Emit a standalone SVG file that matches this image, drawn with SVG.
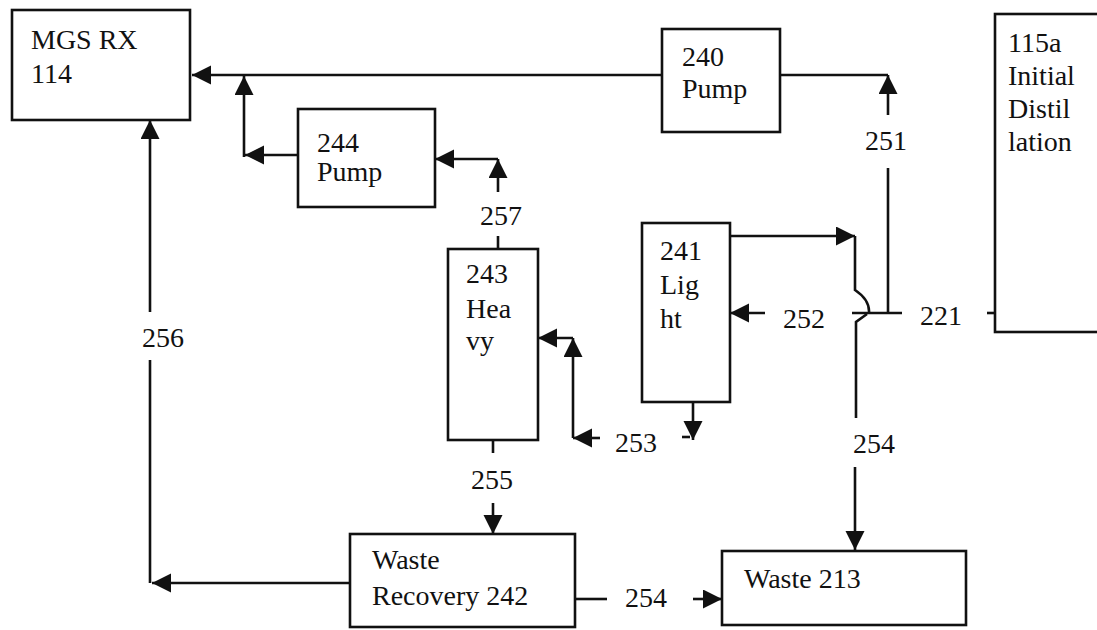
<svg xmlns="http://www.w3.org/2000/svg" width="1097" height="630" viewBox="0 0 1097 630">
<defs>
<marker id="ah" markerUnits="userSpaceOnUse" markerWidth="20" markerHeight="20" refX="19" refY="9.5" orient="auto">
<path d="M0,0 L19,9.5 L0,19 z" fill="#111"/>
</marker>
<style>
.box{fill:#fff;stroke:#111;stroke-width:2.6}
.t{font-family:"Liberation Serif","Times New Roman",serif;font-size:28px;fill:#111}
.c{fill:none;stroke:#111;stroke-width:2.6}
.a{marker-end:url(#ah)}
</style>
</defs>
<rect width="1097" height="630" fill="#fff"/>
<g id="connectors">
<path class="c a" d="M662,75 H192"/>
<path class="c" d="M780,75 H888"/>
<path class="c a" d="M888,115 V75"/>
<path class="c" d="M888,168 V313"/>
<path class="c" d="M852,313 H902"/>
<path class="c" d="M987,313 H995"/>
<path class="c a" d="M765,313 H730"/>
<path class="c a" d="M730,236 H855"/>
<path class="c" d="M855,236 V290 Q870,300 869,313"/>
<path class="c" d="M867,314 L856,322 V418"/>
<path class="c a" d="M855,467 V550"/>
<path class="c a" d="M298,155 H245"/>
<path class="c a" d="M244,157 V76"/>
<path class="c a" d="M498,159 H435"/>
<path class="c a" d="M498,192 V159"/>
<path class="c" d="M498,236 V249"/>
<path class="c a" d="M573,338 H538"/>
<path class="c a" d="M573,438 V338"/>
<path class="c a" d="M600,438 H573"/>
<path class="c a" d="M693,402 V440"/>
<path class="c" d="M682,437 H690"/>
<path class="c" d="M493,440 V453"/>
<path class="c a" d="M493,503 V534"/>
<path class="c a" d="M150,312 V120"/>
<path class="c" d="M150,360 V583"/>
<path class="c a" d="M350,583 H152"/>
<path class="c" d="M575,599 H607"/>
<path class="c a" d="M693,599 H722"/>
<text class="t" x="865" y="150">251</text>
<text class="t" x="480" y="225">257</text>
<text class="t" x="783" y="328">252</text>
<text class="t" x="920" y="325">221</text>
<text class="t" x="615" y="452">253</text>
<text class="t" x="853" y="453">254</text>
<text class="t" x="471" y="489">255</text>
<text class="t" x="142" y="347">256</text>
<text class="t" x="625" y="607">254</text>
</g>
<g id="mgs">
<rect class="box" x="12" y="10" width="178" height="110"/>
<text class="t" x="31" y="49">MGS RX</text>
<text class="t" x="31" y="83">114</text>
</g>
<g id="pump240">
<rect class="box" x="662" y="29" width="118" height="103"/>
<text class="t" x="682" y="66">240</text>
<text class="t" x="682" y="98">Pump</text>
</g>
<g id="dist115a">
<rect class="box" x="995" y="14" width="120" height="318"/>
<text class="t" x="1008" y="52">115a</text>
<text class="t" x="1008" y="85">Initial</text>
<text class="t" x="1008" y="118">Distil</text>
<text class="t" x="1008" y="151">lation</text>
</g>
<g id="pump244">
<rect class="box" x="298" y="109" width="137" height="98"/>
<text class="t" x="317" y="152">244</text>
<text class="t" x="317" y="181">Pump</text>
</g>
<g id="heavy243">
<rect class="box" x="448" y="249" width="90" height="191"/>
<text class="t" x="466" y="283">243</text>
<text class="t" x="466" y="318">Hea</text>
<text class="t" x="466" y="350">vy</text>
</g>
<g id="light241">
<rect class="box" x="642" y="223" width="88" height="179"/>
<text class="t" x="660" y="260">241</text>
<text class="t" x="660" y="294">Lig</text>
<text class="t" x="660" y="328">ht</text>
</g>
<g id="recovery242">
<rect class="box" x="350" y="534" width="225" height="93"/>
<text class="t" x="372" y="569">Waste</text>
<text class="t" x="372" y="605">Recovery 242</text>
</g>
<g id="waste213">
<rect class="box" x="722" y="551" width="244" height="74"/>
<text class="t" x="744" y="588">Waste 213</text>
</g>
</svg>
